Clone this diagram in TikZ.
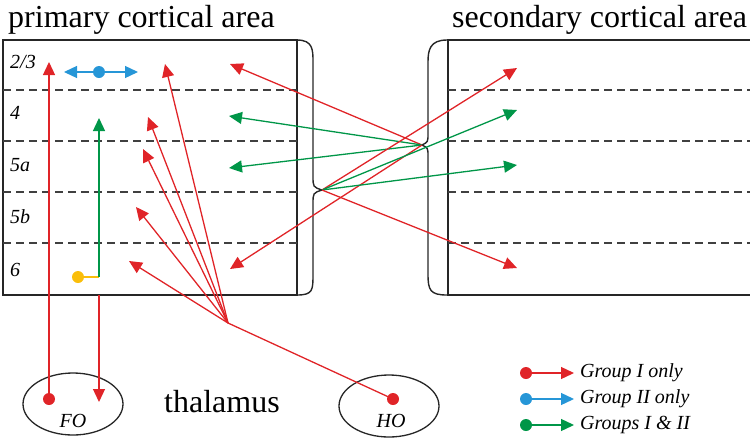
\documentclass[tikz,border=0pt]{standalone}
\usepackage{fontspec}
\setmainfont{Liberation Serif}
\usetikzlibrary{positioning,arrows.meta,shapes.geometric}
\definecolor{grpred}{RGB}{224,36,40}
\definecolor{grpblue}{RGB}{38,150,215}
\definecolor{grpgreen}{RGB}{0,150,72}
\definecolor{grpyellow}{RGB}{250,190,10}
\tikzset{>={Triangle[length=13pt,width=12pt]}}
\tikzset{
  frame/.style={line width=1.4pt,draw=black!85},
  layerline/.style={line width=1.4pt,draw=black!75,dash pattern=on 8pt off 5pt},
  layer/.style={font=\fontsize{20}{20}\selectfont\itshape,anchor=west,inner sep=0pt},
  heading/.style={font=\fontsize{32}{32}\selectfont,inner sep=0pt},
  legend/.style={font=\fontsize{20}{20}\selectfont\itshape,anchor=west,inner sep=0pt},
  dot/.style={circle,fill=#1,inner sep=0pt,minimum size=12pt},
  conn/.style={line width=1.3pt,draw=#1},
  nucleus/.style={ellipse,draw=black!85,line width=1.3pt,minimum width=100pt,minimum height=62pt}
}

\begin{document}
\begin{tikzpicture}[x=1pt,y=-1pt]
    \useasboundingbox (0,0) rectangle (750,440);

    % titles
    \node [heading,anchor=base west] (ptitle) at (8,27) {primary cortical area};
    \node [heading,anchor=base west] (stitle) at (452,27) {secondary cortical area};
    \node [heading,anchor=base] (thal) at (222,412) {thalamus};

    % the two areas
    \draw [frame] (3,40) rectangle (297,295);
    \draw [frame] (752,40) -- (448,40) -- (448,295) -- (752,295);
    \foreach \y in {90,141,192,243} {
        \draw [layerline] (3,\y) -- (297,\y);
        \draw [layerline] (448,\y) -- (750,\y);
    }
    \foreach \t/\y in {{2/3}/62,4/113,5a/165,5b/217,6/270}
        \node [layer] at (10,\y) {\t};

    % braces
    \draw [frame] (297,40) .. controls (313,40) and (313,50) .. (313,62) -- (313,176)
        .. controls (313,187) .. (322,190) .. controls (313,193) .. (313,204) -- (313,274)
        .. controls (313,290) and (313,295) .. (297,295);
    \draw [frame] (447,40) .. controls (430,40) and (428,50) .. (428,62) -- (428,134)
        .. controls (428,142) .. (422,145) .. controls (428,148) .. (428,156) -- (428,274)
        .. controls (428,290) and (430,295) .. (447,295);
    \coordinate (pb) at (322,190);
    \coordinate (sb) at (422,145);

    % thalamus
    \node [nucleus] (fo) at (73,404) {};
    \node [nucleus] (ho) at (389,406) {};
    \node [legend,anchor=center] (folab) at (73,421) {FO};
    \node [legend,anchor=center] (holab) at (391,421) {HO};

    % targets
    \coordinate (t1) at (230,64);
    \coordinate (t2) at (229,116);
    \coordinate (t3) at (229,168);
    \coordinate (t4) at (230,269);
    \coordinate (s1) at (517,68);
    \coordinate (s2) at (517,110);
    \coordinate (s3) at (517,165);
    \coordinate (s4) at (517,268);
    \coordinate (hub) at (228,323);
    \coordinate (f1) at (165,64);
    \coordinate (f2) at (148,117);
    \coordinate (f3) at (143,149);
    \coordinate (f4) at (136,207);
    \coordinate (f5) at (129,261);

    % cortico-cortical
    \draw [conn=grpred,->] (sb) -- (t1);
    \draw [conn=grpgreen,->] (sb) -- (t2);
    \draw [conn=grpgreen,->] (sb) -- (t3);
    \draw [conn=grpred,->] (sb) -- (t4);
    \draw [conn=grpred,->] (pb) -- (s1);
    \draw [conn=grpgreen,->] (pb) -- (s2);
    \draw [conn=grpgreen,->] (pb) -- (s3);
    \draw [conn=grpred,->] (pb) -- (s4);

    % HO fan
    \node [dot=grpred] (hodot) at (393,399) {};
    \draw [conn=grpred] (hodot.center) -- (hub);
    \foreach \f in {f1,f2,f3,f4,f5}
        \draw [conn=grpred,->] (hub) -- (\f);

    % FO loop
    \node [dot=grpred] (fodot) at (49,399) {};
    \coordinate (p23) at (49,62);
    \draw [conn=grpred,->] (fodot.center) -- (p23);
    \coordinate (pbot) at (99,295);
    \coordinate (fotip) at (99,402);
    \draw [conn=grpred,->] (pbot) -- (fotip);

    % layer 6 to 4
    \node [dot=grpyellow] (ydot) at (78,277) {};
    \coordinate (yj) at (99,277);
    \coordinate (g4) at (99,118);
    \draw [conn=grpyellow] (ydot) -- (yj);
    \draw [conn=grpgreen,->] (yj) -- (g4);

    % layer 2/3
    \node [dot=grpblue] (bdot) at (99,72) {};
    \coordinate (bl) at (64,72);
    \coordinate (br) at (138,72);
    \draw [conn=grpblue,->] (bdot) -- (bl);
    \draw [conn=grpblue,->] (bdot) -- (br);

    % legend
    \foreach \c/\t [count=\i] in {grpred/Group I only,grpblue/Group II only,grpgreen/Groups I \& II} {
        \node [dot=\c] (ld\i) at (526,347+26*\i) {};
        \coordinate (la\i) at (574,347+26*\i);
        \node [legend] (lt\i) at (580,347+26*\i) {\t};
        \draw [conn=\c,->] (ld\i) -- (la\i);
    }
\end{tikzpicture}
\end{document}
